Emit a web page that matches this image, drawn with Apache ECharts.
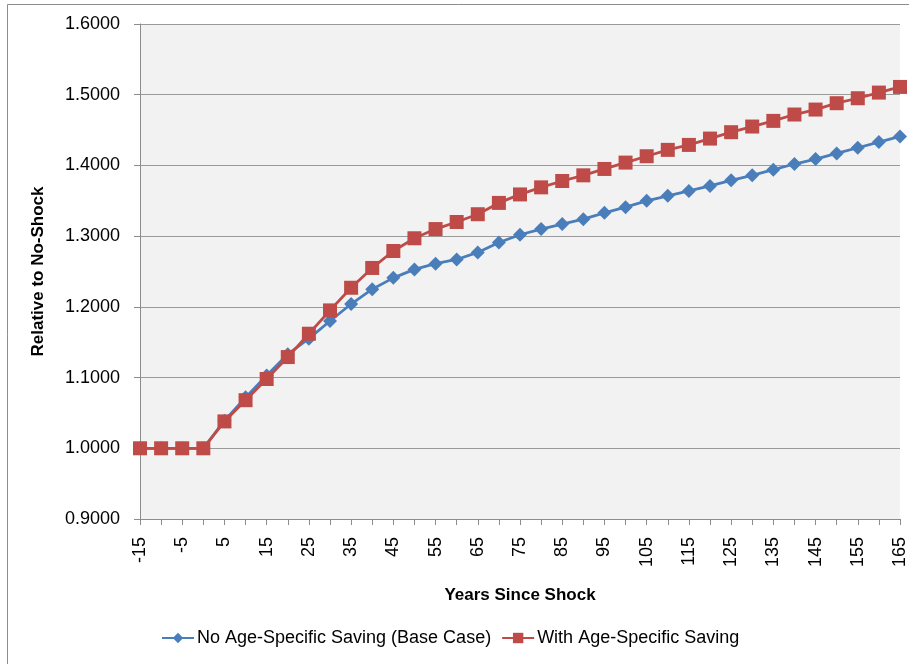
<!DOCTYPE html>
<html>
<head>
<meta charset="utf-8">
<script src="https://cdn.jsdelivr.net/npm/echarts@6/dist/echarts.min.js"></script>
<style>
html,body{margin:0;padding:0;background:#fff;}
#chart{width:909px;height:664px;}
</style>
</head>
<body>
<div id="chart"></div>
<script>
const years = ['-15','-10','-5','0','5','10','15','20','25','30','35','40','45','50','55','60','65','70','75','80','85','90','95','100','105','110','115','120','125','130','135','140','145','150','155','160','165'];
const baseCase = [1.000,1.000,1.000,1.000,1.039,1.072,1.103,1.133,1.155,1.180,1.204,1.225,1.241,1.253,1.261,1.267,1.277,1.291,1.302,1.310,1.317,1.324,1.333,1.341,1.350,1.357,1.364,1.371,1.379,1.386,1.394,1.402,1.409,1.417,1.425,1.433,1.441];
const ageSpecific = [1.000,1.000,1.000,1.000,1.038,1.068,1.098,1.129,1.162,1.195,1.227,1.255,1.279,1.297,1.310,1.320,1.331,1.347,1.359,1.369,1.378,1.386,1.395,1.404,1.413,1.422,1.429,1.438,1.447,1.455,1.463,1.472,1.479,1.488,1.495,1.503,1.511];
const seriesNames = ['No Age-Specific Saving (Base Case)','With Age-Specific Saving'];

const FONT = 'Liberation Sans';
const chart = echarts.init(document.getElementById('chart'));
chart.setOption({
  animation: false,
  textStyle: {fontFamily: FONT},
  graphic: [{
    type: 'rect', silent: true, z: -10,
    shape: {x: 7.5, y: 4.5, width: 1000, height: 1000},
    style: {fill: 'none', stroke: '#8c8c8c', lineWidth: 1}
  }],
  grid: {left: 140, right: 3, top: 24, bottom: 145, show: true, backgroundColor: '#f2f2f2', borderWidth: 0},
  legend: {
    bottom: 12, left: 156, itemWidth: 32, itemHeight: 13, itemGap: 10,
    textStyle: {fontFamily: FONT, fontSize: 18, color: '#000', padding: [0, 0, 0, -2]},
    data: seriesNames
  },
  xAxis: {
    type: 'category', data: years, boundaryGap: false,
    name: 'Years Since Shock', nameLocation: 'middle', nameGap: 68,
    nameTextStyle: {fontFamily: FONT, fontSize: 17, fontWeight: 'bold', color: '#000'},
    axisLine: {lineStyle: {color: '#8c8c8c', width: 1}},
    axisTick: {show: true, interval: 0, length: 6, lineStyle: {color: '#8c8c8c'}},
    axisLabel: {interval: 1, rotate: 90, fontSize: 18, color: '#000', margin: 18, fontFamily: FONT},
    splitLine: {show: false}
  },
  yAxis: {
    type: 'value', min: 0.9, max: 1.6, interval: 0.1,
    name: 'Relative to No-Shock', nameLocation: 'middle', nameGap: 93, nameRotate: 90,
    nameTextStyle: {fontFamily: FONT, fontSize: 17, fontWeight: 'bold', color: '#000'},
    axisLine: {show: true, lineStyle: {color: '#8c8c8c', width: 1}},
    axisTick: {show: true, inside: false, length: 6, lineStyle: {color: '#8c8c8c'}},
    axisLabel: {fontSize: 18, color: '#000', margin: 20, formatter: v => v.toFixed(4), fontFamily: FONT},
    splitLine: {show: true, lineStyle: {color: '#9a9a9a', width: 1}}
  },
  series: [
    {
      name: seriesNames[0], type: 'line', data: baseCase,
      symbol: 'diamond', symbolSize: 14, showAllSymbol: true,
      itemStyle: {color: '#4a7ebb'},
      lineStyle: {color: '#4a7ebb', width: 2.8},
      z: 2
    },
    {
      name: seriesNames[1], type: 'line', data: ageSpecific,
      symbol: 'rect', symbolSize: 14, showAllSymbol: true,
      itemStyle: {color: '#be4b48'},
      lineStyle: {color: '#be4b48', width: 2.8},
      z: 3
    }
  ]
});
</script>
</body>
</html>
